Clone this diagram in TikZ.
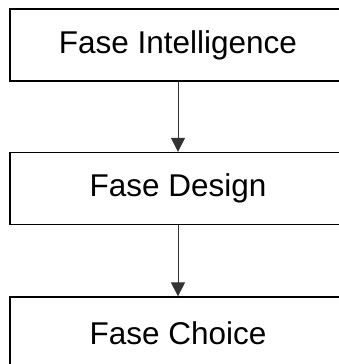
\documentclass[tikz,border=0pt]{standalone}
\usepackage{fontspec}
\setmainfont{Liberation Sans}
\usetikzlibrary{arrows.meta}
\begin{document}
\begin{tikzpicture}[x=1pt,y=-1pt,
  box/.style={draw, line width=1.3pt, minimum width=336pt, minimum height=72pt, inner sep=0pt, font=\fontsize{31.5}{36}\selectfont},
  conn/.style={-{Triangle[width=14pt,length=14pt]}, line width=1pt, draw=black!80, fill=black}]
\useasboundingbox (0,0) rectangle (339,364);
\clip (0,0) rectangle (339,364);
\node[box] (a) at (178,45) {Fase Intelligence};
\node[box] (b) at (178,188.5) {Fase Design};
\node[box] (c) at (178,333) {Fase Choice};
\draw[conn] (a) -- (b);
\draw[conn] (b) -- (c);
\end{tikzpicture}
\end{document}
